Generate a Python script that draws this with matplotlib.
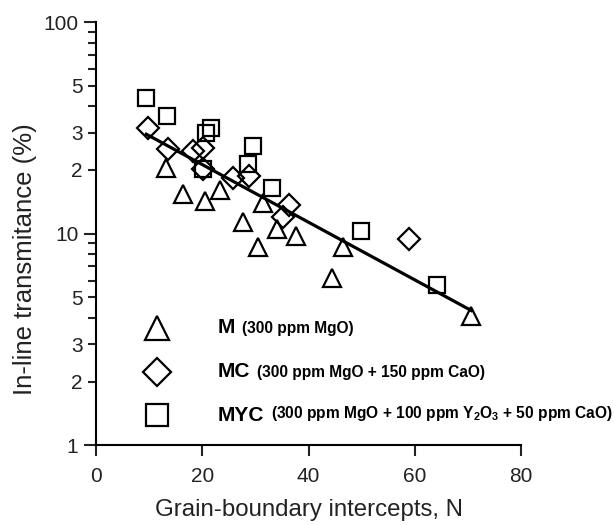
import numpy as np
import matplotlib
matplotlib.use("Agg")
import matplotlib.pyplot as plt
from matplotlib.ticker import FixedLocator, FixedFormatter

plt.rcParams['font.family'] = ['Liberation Sans', 'DejaVu Sans']
plt.rcParams['mathtext.fontset'] = 'custom'
plt.rcParams['mathtext.bf'] = 'Liberation Sans:bold'
plt.rcParams['mathtext.rm'] = 'Liberation Sans:bold'

# M (300 ppm MgO)
m_x = [13.2, 16.4, 20.5, 23.3, 27.7, 31.5, 30.5, 34.0, 37.6, 46.5, 44.5, 70.6]
m_y = [20.4, 15.4, 14.2, 16.0, 11.3, 14.0, 8.6, 10.5, 9.7, 8.6, 6.2, 4.06]

# MC (300 ppm MgO + 150 ppm CaO)
mc_x = [9.8, 13.6, 18.3, 20.2, 20.1, 25.8, 28.9, 36.3, 35.2, 58.9]
mc_y = [31.4, 25.1, 24.6, 25.5, 20.2, 18.4, 18.8, 13.6, 12.0, 9.4]

# MYC (300 ppm MgO + 100 ppm Y2O3 + 50 ppm CaO)
myc_x = [9.5, 13.4, 20.7, 21.7, 20.1, 29.5, 28.7, 33.1, 49.8, 64.2]
myc_y = [43.7, 35.8, 30.0, 31.7, 20.2, 25.9, 21.4, 16.4, 10.3, 5.73]

# fitted line end points
fit_x = [9.5, 70.6]
fit_y = [29.5, 4.33]

fig = plt.figure(figsize=(6.14, 5.25), dpi=100)
ax = fig.add_axes([0.156, 0.152, 0.693, 0.806])

mk = dict(linestyle='none', markerfacecolor='none', markeredgecolor='black',
          markeredgewidth=1.6)
ax.plot(fit_x, fit_y, color='black', linewidth=2.3, zorder=3)
ax.plot(m_x, m_y, marker='^', markersize=13, **mk)
ax.plot(mc_x, mc_y, marker='D', markersize=11, **mk)
ax.plot(myc_x, myc_y, marker='s', markersize=11, **mk)

ax.set_yscale('log')
ax.set_xlim(0, 80)
ax.set_ylim(1, 100)
ax.spines['top'].set_visible(False)
ax.spines['right'].set_visible(False)
for s in ['left', 'bottom']:
    ax.spines[s].set_linewidth(1.5)

ax.set_xticks([0, 20, 40, 60, 80])
ax.yaxis.set_major_locator(FixedLocator([1, 10, 100]))
ax.yaxis.set_major_formatter(FixedFormatter(['1', '10', '100']))
minor = [2, 3, 4, 5, 6, 7, 8, 9, 20, 30, 40, 50, 60, 70, 80, 90]
minor_lbl = ['2', '3', '', '5', '', '', '', '', '2', '3', '', '5', '', '', '', '']
ax.yaxis.set_minor_locator(FixedLocator(minor))
ax.yaxis.set_minor_formatter(FixedFormatter(minor_lbl))

ax.tick_params(axis='both', which='major', labelsize=15, width=1.5, length=9,
               direction='out', colors='#222222')
ax.tick_params(axis='y', which='minor', labelsize=15, width=1.5, length=6,
               direction='out', colors='#222222')
ax.tick_params(axis='x', which='major', length=8, pad=8)

ax.set_xlabel('Grain-boundary intercepts, N', fontsize=17.3, color='#222222', labelpad=9)
ax.set_ylabel('In-line transmitance (%)', fontsize=18.5, color='#222222')
ax.yaxis.set_label_coords(-0.139, 0.44)

# legend drawn by hand
leg_marks = ['^', 'D', 's']
leg_sizes = [17, 14, 16.5]
leg_names = ['M', 'MC', 'MYC']
leg_desc = ['(300 ppm MgO)', '(300 ppm MgO + 150 ppm CaO)',
            r'(300 ppm MgO + 100 ppm Y$_\mathbf{2}$O$_\mathbf{3}$ + 50 ppm CaO)']
leg_y = [0.277, 0.173, 0.071]
for m, sz, name, desc, yy in zip(leg_marks, leg_sizes, leg_names, leg_desc, leg_y):
    ax.plot([0.144], [yy], marker=m, markersize=sz, transform=ax.transAxes,
            clip_on=False, **mk)
    t = ax.text(0.287, yy, name, transform=ax.transAxes, fontsize=15,
                fontweight='bold', va='center', ha='left')
    ax.annotate(desc, xy=(1, 0), xycoords=t, xytext=(5, 1),
                textcoords='offset points', fontsize=11.2, fontweight='bold',
                va='bottom', ha='left', annotation_clip=False)

fig.savefig('out.png', dpi=100)
